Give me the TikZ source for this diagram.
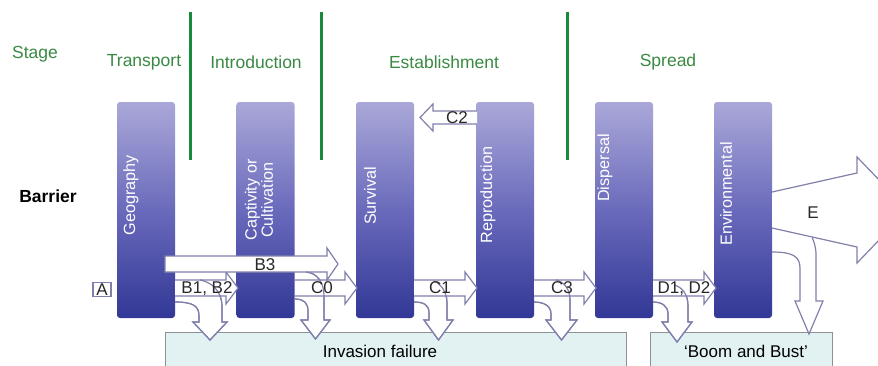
\documentclass[tikz,border=0pt]{standalone}
\usepackage{fontspec}
\setmainfont{Liberation Sans}
\definecolor{barT}{RGB}{170,168,216}
\definecolor{barM}{RGB}{106,106,188}
\definecolor{barB}{RGB}{50,56,150}
\definecolor{arrc}{RGB}{128,128,172}
\definecolor{stg}{RGB}{58,138,68}
\definecolor{gline}{RGB}{24,138,60}
\definecolor{boxf}{RGB}{226,242,242}
\definecolor{boxd}{RGB}{140,145,150}
\definecolor{lblc}{RGB}{40,40,40}
\tikzset{
  arrline/.style={draw=arrc, line width=1.2pt, line join=miter},
  barbox/.style={rectangle, rounded corners=3pt, minimum width=58pt, minimum height=216pt, inner sep=0pt, top color=barT, bottom color=barB, middle color=barM},
  bartext/.style={rotate=90, text=white, inner sep=0pt, align=center, font=\fontsize{16.2}{14.5}\selectfont},
  stagetext/.style={text=stg, inner sep=0pt, font=\fontsize{17.5}{20}\selectfont},
  albl/.style={text=lblc, inner sep=0pt, text height=11.5pt, text depth=0pt, font=\fontsize{17}{20}\selectfont},
  failbox/.style={fill=boxf, draw=boxd, line width=1pt},
  gsep/.style={draw=gline, line width=3pt}
}
\newcommand\hblockarrow[6]{%
  \path[fill=white] ({#1},{#3-#4}) -- ({#2-(#6)},{#3-#4}) -- ({#2-(#6)},{#3-#5}) -- ({#2},{#3}) -- ({#2-(#6)},{#3+#5}) -- ({#2-(#6)},{#3+#4}) -- ({#1},{#3+#4}) -- cycle;
  \draw[arrline] ({#1},{#3-#4}) -- ({#2-(#6)},{#3-#4}) -- ({#2-(#6)},{#3-#5}) -- ({#2},{#3}) -- ({#2-(#6)},{#3+#5}) -- ({#2-(#6)},{#3+#4}) -- ({#1},{#3+#4});}
\newcommand\bentGeo{(175,302) .. controls (193,302) and (199,306) .. (199,316) -- (199,322) -- (193,322) -- (210,340) -- (227,322) -- (222,322) -- (222,306) .. controls (222,292) and (212,282) .. (200,280)}
\newcommand\bentCap{(295,299) .. controls (304,299) and (308,303) .. (308,311) -- (308,320) -- (301,320) -- (315.5,339) -- (330,320) -- (324,320) -- (324,296) .. controls (324,282) and (317,273) .. (306,272)}
\newcommand\bentSurv{(414,302) .. controls (424,302) and (429,305) .. (429,313) -- (429,320) -- (424,320) -- (438.5,340) -- (453,320) -- (447,320) -- (447,303) .. controls (447,292) and (441,284) .. (434,281)}
\newcommand\bentRepro{(534,302) .. controls (544,302) and (551,306) .. (551,314) -- (551,320) -- (546,320) -- (561.5,340) -- (577,320) -- (570,320) -- (570,300) .. controls (570,289) and (564,282) .. (556,280)}
\newcommand\bentDisp{(653,302) .. controls (662,302) and (668,306) .. (668,314) -- (668,322) -- (662,322) -- (677,342) -- (692,322) -- (688,322) -- (688,306) .. controls (688,294) and (682,287) .. (674,285)}
\newcommand\bentEnv{(772,252) .. controls (792,252) and (800,256) .. (800,268) -- (800,301) -- (795,301) -- (809,334) -- (823,301) -- (816,301) -- (816,255) .. controls (816,247) and (814,242) .. (812,237)}
\begin{document}
\begin{tikzpicture}[x=1pt,y=-1pt]
\useasboundingbox (0,0) rectangle (878,365);
\clip (0,0) rectangle (878,365);
\fill[white] (0,0) rectangle (878,365);
% failure boxes
\draw[failbox] (165,332) rectangle (626,375);
\draw[failbox] (650,332) rectangle (832,375);
\node[albl, text=black] (fail) at (380,352) {Invasion failure};
\node[albl, text=black] (boom) at (746,352) {‘Boom and Bust’};
% stage separators
\coordinate (s1t) at (190,12); \coordinate (s1b) at (190,160);
\coordinate (s2t) at (321,12); \coordinate (s2b) at (321,160);
\coordinate (s3t) at (567,12); \coordinate (s3b) at (567,160);
\draw[gsep] (s1t) -- (s1b);
\draw[gsep] (s2t) -- (s2b);
\draw[gsep] (s3t) -- (s3b);
% stage labels
\node[stagetext] (stage) at (35,54) {Stage};
\node[stagetext] (trans) at (144,62) {Transport};
\node[stagetext] (intro) at (256,62) {Introduction};
\node[stagetext] (estab) at (444,62) {Establishment};
\node[stagetext] (spread) at (668,62) {Spread};
\node[inner sep=0pt, font=\fontsize{17.5}{20}\selectfont\bfseries] (barrier) at (48,196) {Barrier};
% bars
\node[barbox] (geo) at (146,210) {};
\node[barbox] (cap) at (265.5,210) {};
\node[barbox] (surv) at (385,210) {};
\node[barbox] (repro) at (505,210) {};
\node[barbox] (disp) at (624,210) {};
\node[barbox] (env) at (743,210) {};
\node[bartext] (geoT) at (131,195) {Geography};
\node[bartext] (capT) at (259,200) {Captivity or\\Cultivation};
\node[bartext] (survT) at (370,196) {Survival};
\node[bartext] (reproT) at (488,195) {Reproduction};
\node[bartext] (dispT) at (605,168) {Dispersal};
\node[bartext] (envT) at (726,194) {Environmental};
% E arrow
\path[fill=white] (772,192) -- (857,173) -- (857,157) -- (908,210) -- (857,263) -- (857,247) -- (772,228) -- cycle;
\draw[arrline] (772,192) -- (857,173) -- (857,157) -- (908,210) -- (857,263) -- (857,247) -- (772,228);
% bent arrows, first pass
\foreach \p in {\bentGeo,\bentCap,\bentSurv,\bentRepro,\bentDisp,\bentEnv}{
  \path[fill=white] \p -- cycle;
  \draw[arrline] \p;
}
% horizontal arrows
\hblockarrow{175}{238}{288}{8}{16}{12}
\hblockarrow{295}{357}{288}{8}{16}{12}
\hblockarrow{414}{477}{288}{8}{16}{12}
\hblockarrow{534}{596}{288}{8}{16}{12}
\hblockarrow{653}{716}{288}{8}{16}{12}
\hblockarrow{477}{420}{117.5}{6.5}{13.5}{-13}
\path[fill=white] (165,256) -- (327,256) -- (327,248) -- (338,264) -- (327,280) -- (327,272) -- (165,272) -- cycle;
\draw[arrline] (165,256) -- (327,256) -- (327,248) -- (338,264) -- (327,280) -- (327,272) -- (165,272) -- cycle;
% bent arrows, outlines over the horizontal arrows
\foreach \p in {\bentGeo,\bentCap,\bentSurv,\bentRepro,\bentDisp}{
  \draw[arrline] \p;
}
% A box
\node[albl, draw=arrc, line width=1.2pt, fill=white, minimum width=18pt, minimum height=14pt, text height=11pt] (A) at (102,289.5) {A};
% arrow labels
\node[albl] (lB12) at (207,288) {B1, B2};
\node[albl] (lC0) at (322,288) {C0};
\node[albl] (lC1) at (440,288) {C1};
\node[albl] (lC3) at (562,288) {C3};
\node[albl] (lD12) at (684,288) {D1, D2};
\node[albl] (lB3) at (265,265) {B3};
\node[albl] (lC2) at (457,117.5) {C2};
\node[albl] (lE) at (813,213) {E};
\end{tikzpicture}
\end{document}
